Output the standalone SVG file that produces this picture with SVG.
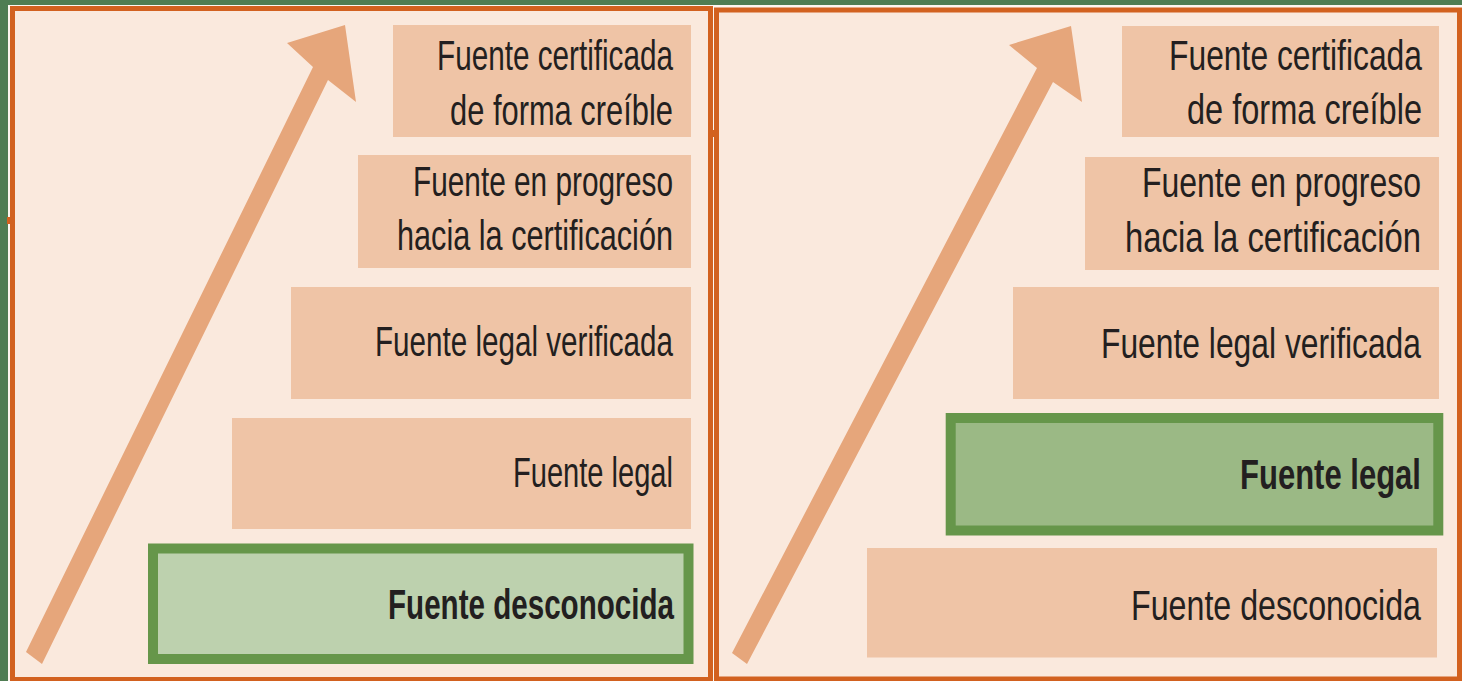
<svg xmlns="http://www.w3.org/2000/svg" width="1462" height="681" viewBox="0 0 1462 681">
<style>
.panel{fill:#fae9dd;stroke:#d2611f;stroke-width:5}
.box{fill:#efc4a6}
.hl{stroke:#66964a;stroke-width:10}
.arrow{fill:#e6a67b}
text{font-family:"Liberation Sans",Arial,sans-serif;font-size:42px;fill:#231f20}
.b{font-weight:bold}
</style>
<rect x="0" y="0" width="1462" height="681" fill="#4f7d53"/>
<rect x="8" y="5" width="1454" height="676" fill="#fdf6f0"/>
<g id="panel-left">
<rect class="panel" x="12.5" y="8.5" width="698" height="671"/>
<rect x="711" y="130" width="3" height="7" fill="#d2611f"/>
<rect x="7" y="217" width="3" height="7" fill="#d2611f"/>
</g>
<g id="panel-right">
<rect class="panel" x="716.5" y="10" width="743" height="669"/>
</g>
<g id="connectors">
<polygon class="arrow" points="26,652 313,67 287,43 345,25 356,102 328,80 42,664"/>
<polygon class="arrow" points="732,653 1037,68 1009,45 1071,26 1082,102 1053,82 747,664"/>
</g>
<g id="L1"><rect class="box" x="393" y="25" width="298" height="112"/>
<text x="437" y="70" textLength="236" lengthAdjust="spacingAndGlyphs">Fuente certificada</text>
<text x="450" y="125" textLength="223" lengthAdjust="spacingAndGlyphs">de forma creíble</text></g>
<g id="L2"><rect class="box" x="358" y="155" width="333" height="113"/>
<text x="413" y="196" textLength="260" lengthAdjust="spacingAndGlyphs">Fuente en progreso</text>
<text x="397" y="250" textLength="276" lengthAdjust="spacingAndGlyphs">hacia la certificación</text></g>
<g id="L3"><rect class="box" x="291" y="287" width="400" height="112"/>
<text x="375" y="356" textLength="298" lengthAdjust="spacingAndGlyphs">Fuente legal verificada</text></g>
<g id="L4"><rect class="box" x="232" y="418" width="459" height="111"/>
<text x="513" y="487" textLength="160" lengthAdjust="spacingAndGlyphs">Fuente legal</text></g>
<g id="L5"><rect class="hl" x="153" y="548.5" width="535.5" height="110.5" fill="#bdd1ae"/>
<text class="b" x="388" y="619" textLength="286" lengthAdjust="spacingAndGlyphs">Fuente desconocida</text></g>
<g id="R1"><rect class="box" x="1122" y="26" width="317" height="111"/>
<text x="1169" y="70" textLength="253" lengthAdjust="spacingAndGlyphs">Fuente certificada</text>
<text x="1187" y="124" textLength="235" lengthAdjust="spacingAndGlyphs">de forma creíble</text></g>
<g id="R2"><rect class="box" x="1085" y="157" width="354" height="113"/>
<text x="1142" y="197" textLength="279" lengthAdjust="spacingAndGlyphs">Fuente en progreso</text>
<text x="1125" y="252" textLength="296" lengthAdjust="spacingAndGlyphs">hacia la certificación</text></g>
<g id="R3"><rect class="box" x="1013" y="287" width="426" height="112"/>
<text x="1101" y="358" textLength="320" lengthAdjust="spacingAndGlyphs">Fuente legal verificada</text></g>
<g id="R4"><rect class="hl" x="950.7" y="418" width="487.6" height="112.5" fill="#9bb985"/>
<text class="b" x="1240" y="489" textLength="181" lengthAdjust="spacingAndGlyphs">Fuente legal</text></g>
<g id="R5"><rect class="box" x="867" y="548" width="570" height="109.5"/>
<text x="1131" y="620" textLength="290" lengthAdjust="spacingAndGlyphs">Fuente desconocida</text></g>
</svg>
